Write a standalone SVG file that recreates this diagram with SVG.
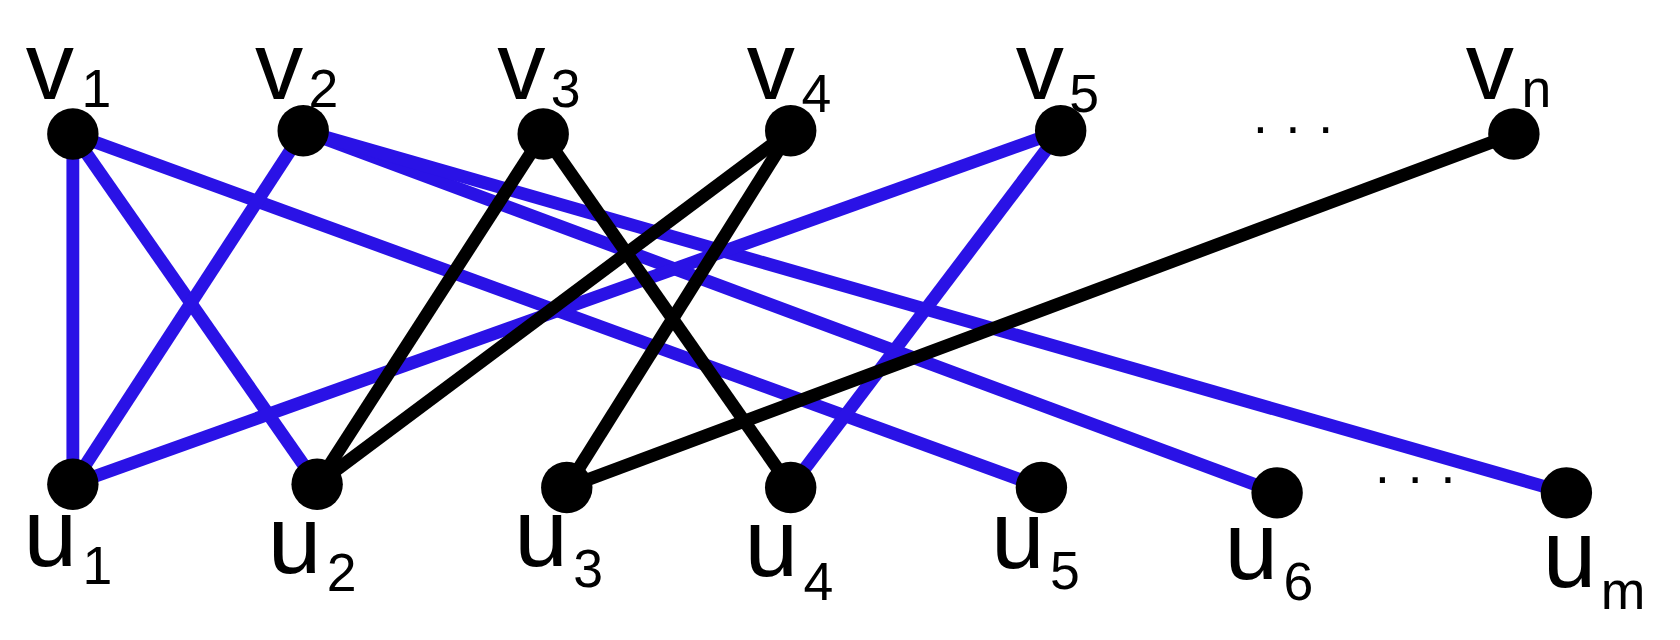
<svg xmlns="http://www.w3.org/2000/svg" width="1680" height="640" viewBox="0 0 1680 640">
<style>
.b{stroke:#2a12e6;stroke-width:12;fill:none}
.k{stroke:#000;stroke-width:12;fill:none}
.n{fill:#000}
text{font-family:"Liberation Sans",Arial,sans-serif;fill:#000}
.m{font-size:90px}
.s{font-size:50px}
</style>
<rect width="1680" height="640" fill="#fff"/>
<g transform="scale(1.0714)">
<g id="edges">
<line class="b" x1="68" y1="125" x2="68" y2="452"/>
<line class="b" x1="68" y1="125" x2="296" y2="452"/>
<line class="b" x1="68" y1="125" x2="972" y2="455"/>
<line class="b" x1="283" y1="122" x2="68" y2="452"/>
<line class="b" x1="283" y1="122" x2="1192" y2="460"/>
<line class="b" x1="283" y1="122" x2="1462" y2="460"/>
<line class="b" x1="990" y1="122" x2="68" y2="452"/>
<line class="b" x1="990" y1="122" x2="738" y2="455"/>
<line class="k" x1="507" y1="125" x2="296" y2="452"/>
<line class="k" x1="507" y1="125" x2="738" y2="455"/>
<line class="k" x1="738" y1="122" x2="296" y2="452"/>
<line class="k" x1="738" y1="122" x2="529" y2="455"/>
<line class="k" x1="1413" y1="125" x2="529" y2="455"/>
</g>
<g id="v1"><circle class="n" cx="68" cy="125" r="24"/><text x="24" y="92" class="m">v</text><text x="76" y="100" class="s">1</text></g>
<g id="v2"><circle class="n" cx="283" cy="122" r="24"/><text x="238" y="92" class="m">v</text><text x="288" y="100" class="s">2</text></g>
<g id="v3"><circle class="n" cx="507" cy="125" r="24"/><text x="464" y="92" class="m">v</text><text x="514" y="100" class="s">3</text></g>
<g id="v4"><circle class="n" cx="738" cy="122" r="24"/><text x="697" y="92" class="m">v</text><text x="748" y="105" class="s">4</text></g>
<g id="v5"><circle class="n" cx="990" cy="122" r="24"/><text x="948" y="92" class="m">v</text><text x="998" y="105" class="s">5</text></g>
<g id="vn"><circle class="n" cx="1413" cy="125" r="24"/><text x="1368" y="92" class="m">v</text><text x="1420" y="100" class="s">n</text></g>
<g id="u1"><circle class="n" cx="68" cy="452" r="24"/><text x="22" y="528" class="m">u</text><text x="77" y="545" class="s">1</text></g>
<g id="u2"><circle class="n" cx="296" cy="452" r="24"/><text x="250" y="535" class="m">u</text><text x="305" y="552" class="s">2</text></g>
<g id="u3"><circle class="n" cx="529" cy="455" r="24"/><text x="480" y="528" class="m">u</text><text x="535" y="548" class="s">3</text></g>
<g id="u4"><circle class="n" cx="738" cy="455" r="24"/><text x="695" y="538" class="m">u</text><text x="750" y="560" class="s">4</text></g>
<g id="u5"><circle class="n" cx="972" cy="455" r="24"/><text x="925" y="530" class="m">u</text><text x="980" y="550" class="s">5</text></g>
<g id="u6"><circle class="n" cx="1192" cy="460" r="24"/><text x="1143" y="540" class="m">u</text><text x="1198" y="560" class="s">6</text></g>
<g id="um"><circle class="n" cx="1462" cy="460" r="24"/><text x="1440" y="548" class="m">u</text><text x="1494" y="568" class="s">m</text></g>
<text x="1168" y="135" class="s">· · ·</text>
<text x="1282" y="462" class="s">· · ·</text>
</g>
</svg>
